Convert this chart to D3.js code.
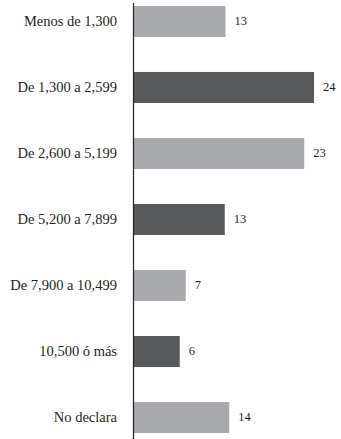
<!DOCTYPE html>
<html>
<head>
<meta charset="utf-8">
<script src="https://cdn.jsdelivr.net/npm/d3@7"></script>
<style>
  html, body { margin: 0; padding: 0; background: #fff; }
  svg { display: block; }
  text { font-family: "Liberation Serif", "DejaVu Serif", "Times New Roman", Times, serif; }
</style>
</head>
<body>
<svg id="chart" width="341" height="439"></svg>
<script>
const categories = ["Menos de 1,300", "De 1,300 a 2,599", "De 2,600 a 5,199", "De 5,200 a 7,899", "De 7,900 a 10,499", "10,500 ó más", "No declara"];
const values = [12.2, 24, 22.7, 12.1, 6.9, 6.1, 12.7];
const valueLabels = ["13", "24", "23", "13", "7", "6", "14"];
const shades = ["light", "dark", "light", "dark", "light", "dark", "light"];

const svg = d3.select("#chart");
const W = 341, H = 439;
const x0 = 134;

const y = d3.scaleBand()
  .domain(categories)
  .range([0, H])
  .paddingInner(0.53)
  .paddingOuter(0.09);

const x = d3.scaleLinear().domain([0, 24]).range([x0, 314]);

const color = d => d === "dark" ? "#58595b" : "#a7a9ac";

svg.selectAll("rect.bar")
  .data(categories)
  .join("rect")
  .attr("class", "bar")
  .attr("x", x(0))
  .attr("y", d => y(d))
  .attr("width", (d, i) => x(values[i]) - x(0))
  .attr("height", y.bandwidth())
  .attr("fill", (d, i) => color(shades[i]));

// axis line
svg.append("line")
  .attr("x1", x0 - 0.5).attr("x2", x0 - 0.5)
  .attr("y1", 3).attr("y2", H)
  .attr("stroke", "#231f20").attr("stroke-width", 1.2);

// category labels
svg.selectAll("text.cat")
  .data(categories)
  .join("text")
  .attr("class", "cat")
  .attr("x", 117)
  .attr("y", d => y(d) + y.bandwidth() / 2)
  .attr("dy", "0.33em")
  .attr("text-anchor", "end")
  .attr("font-size", 14.5)
  .attr("fill", "#231f20")
  .text(d => d);

// value labels
svg.selectAll("text.val")
  .data(categories)
  .join("text")
  .attr("class", "val")
  .attr("x", (d, i) => x(values[i]) + 9)
  .attr("y", d => y(d) + y.bandwidth() / 2)
  .attr("dy", "0.3em")
  .attr("font-size", 12.5)
  .attr("fill", "#231f20")
  .text((d, i) => valueLabels[i]);
</script>
</body>
</html>
